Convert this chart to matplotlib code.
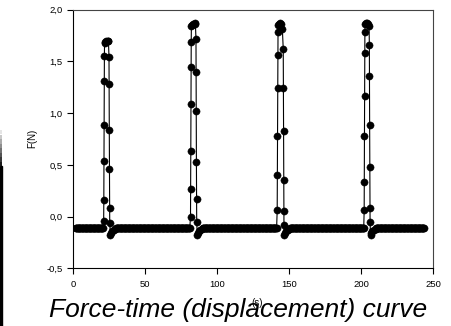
import numpy as np
import matplotlib
matplotlib.use("Agg")
import matplotlib.pyplot as plt
from matplotlib.patches import Rectangle

# ---------------- data ----------------
baseline_level = -0.11
t_start, t_end = 2.0, 244.0

# peak 1
p1_t = [21.3, 21.4, 21.5, 21.6, 21.7, 21.8, 21.9, 22.4, 23.2, 24.0, 24.6,
        25.0, 25.1, 25.2, 25.3, 25.4, 25.5, 26.0, 26.6, 27.3, 28.2, 29.5]
p1_f = [-0.04, 0.16, 0.54, 0.89, 1.31, 1.55, 1.68, 1.69, 1.70, 1.70, 1.70,
        1.54, 1.28, 0.84, 0.46, 0.08, -0.06, -0.18, -0.16, -0.14, -0.13, -0.12]
# peak 2
p2_t = [81.6, 81.7, 81.8, 81.9, 82.0, 82.1, 82.2, 82.8, 83.6, 84.4, 85.0,
        85.4, 85.5, 85.6, 85.7, 85.8, 85.9, 86.3, 86.9, 87.6, 88.5, 89.8]
p2_f = [0.00, 0.27, 0.63, 1.09, 1.45, 1.69, 1.84, 1.85, 1.86, 1.87, 1.86,
        1.72, 1.40, 1.02, 0.53, 0.17, -0.05, -0.18, -0.16, -0.14, -0.13, -0.12]
# peak 3
p3_t = [141.8, 141.9, 142.0, 142.1, 142.2, 142.3, 142.4, 143.0, 143.8, 144.6, 145.4,
        146.0, 146.1, 146.2, 146.3, 146.4, 146.5, 146.8, 147.4, 148.1, 149.0, 150.3]
p3_f = [0.06, 0.40, 0.78, 1.24, 1.56, 1.78, 1.85, 1.86, 1.87, 1.86, 1.81,
        1.62, 1.24, 0.83, 0.35, 0.05, -0.08, -0.18, -0.16, -0.14, -0.13, -0.12]
# peak 4
p4_t = [202.2, 202.3, 202.4, 202.5, 202.6, 202.7, 202.8, 203.4, 204.2, 205.0, 205.6,
        205.8, 205.9, 206.0, 206.1, 206.2, 206.3, 206.6, 207.2, 207.9, 208.8, 210.1]
p4_f = [0.06, 0.33, 0.78, 1.17, 1.58, 1.78, 1.86, 1.87, 1.87, 1.86, 1.845,
        1.66, 1.36, 0.885, 0.48, 0.085, -0.05, -0.18, -0.16, -0.14, -0.13, -0.12]

peaks_t = [p1_t, p2_t, p3_t, p4_t]
peaks_f = [p1_f, p2_f, p3_f, p4_f]

x_ticks = [0, 50, 100, 150, 200, 250]
y_ticks = [-0.5, 0.0, 0.5, 1.0, 1.5, 2.0]
y_ticklabels = ["-0,5", "0,0", "0,5", "1,0", "1,5", "2,0"]

# ---------------- build the series ----------------
t_all, f_all = [], []
cur = t_start
for pt, pf in zip(peaks_t, peaks_f):
    seg = np.arange(cur, pt[0] - 0.15, 0.4)
    t_all.extend(seg)
    f_all.extend([baseline_level] * len(seg))
    t_all.extend(pt)
    f_all.extend(pf)
    cur = pt[-1] + 0.4
seg = np.arange(cur, t_end + 0.01, 0.4)
t_all.extend(seg)
f_all.extend([baseline_level] * len(seg))

# ---------------- figure ----------------
plt.rcParams['font.family'] = ['Liberation Sans', 'DejaVu Sans']
fig = plt.figure(figsize=(4.51, 3.26), dpi=100)
W, H = 451, 326
ax = fig.add_axes([73 / W, (H - 268.3) / H, (433 - 73) / W, (268.3 - 9.7) / H])

ax.plot(t_all, f_all, color='black', linewidth=0.8, marker='o',
        markersize=5.2, markerfacecolor='black', markeredgecolor='black',
        markeredgewidth=0.3)

ax.set_xlim(0, 250)
ax.set_ylim(-0.5, 2.0)
ax.set_xticks(x_ticks)
ax.set_xticklabels([str(v) for v in x_ticks])
ax.set_yticks(y_ticks)
ax.set_yticklabels(y_ticklabels)
ax.tick_params(axis='both', direction='out', length=4, width=0.8,
               labelsize=6.8, colors='black', top=False, right=False)
ax.tick_params(axis='y', pad=3.5)
ax.tick_params(axis='x', pad=4.5)
for s in ['left', 'bottom']:
    ax.spines[s].set_color('black')
    ax.spines[s].set_linewidth(0.8)
for s in ['top', 'right']:
    ax.spines[s].set_color('#444444')
    ax.spines[s].set_linewidth(0.8)

# axis labels
fig.text(32 / W, (H - 138) / H, "F(N)", rotation=90, ha='center', va='center',
         fontsize=7)
fig.text(256.7 / W, (H - 303.3) / H, "(s)", ha='center', va='center',
         fontsize=7)

# caption
fig.text(238.5 / W, (H - 316.5) / H, "Force-time (displacement) curve",
         ha='center', va='baseline', fontsize=19, style='italic')

# black bar at left edge
fig.patches.append(Rectangle((0, 0), 2.2 / W, (H - 166) / H,
                             transform=fig.transFigure, color='black', zorder=5))
for i, a in enumerate(np.linspace(0.9, 0.1, 8)):
    y0 = (H - 166 + i * 4.5) / H
    fig.patches.append(Rectangle((0, y0), 2.2 / W, 4.5 / H,
                                 transform=fig.transFigure, color='black',
                                 alpha=a, linewidth=0, zorder=5))

fig.savefig("out.png", dpi=100)
